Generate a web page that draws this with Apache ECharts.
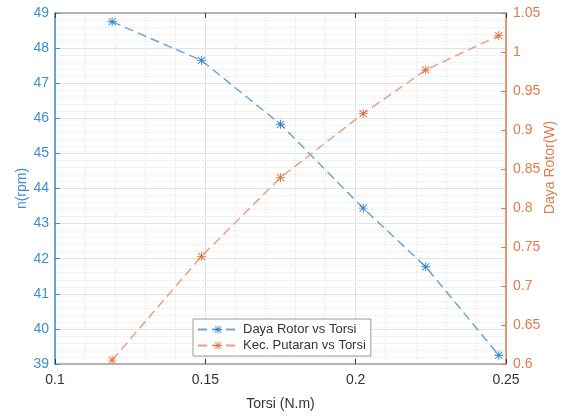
<!DOCTYPE html>
<html>
<head>
<meta charset="utf-8">
<script src="https://cdn.jsdelivr.net/npm/echarts@6/dist/echarts.min.js"></script>
<style>
html,body{margin:0;padding:0;background:#fff;}
#chart{width:574px;height:416px;}
</style>
</head>
<body>
<div id="chart"></div>
<script>
// ---- data ----
const torsi = [0.119, 0.1487, 0.175, 0.2025, 0.2233, 0.2476];
const dayaRotorVsTorsi = [48.75, 47.65, 45.83, 43.44, 41.77, 39.25];   // left axis n(rpm)
const kecPutaranVsTorsi = [0.605, 0.738, 0.839, 0.921, 0.977, 1.021]; // right axis Daya Rotor(W)
const seriesNames = ['Daya Rotor vs Torsi', 'Kec. Putaran vs Torsi'];
const xTicks = { min: 0.1, max: 0.25, interval: 0.05 };
const yLeftTicks = { min: 39, max: 49, interval: 1 };
const yRightTicks = { min: 0.6, max: 1.05, interval: 0.05 };

const BLUE = '#3d8ecf', BLUE_LINE = '#6aa6d6', BLUE_MARK = '#2f84cc';
const ORANGE = '#df7b4c', ORANGE_LINE = '#eaa184', ORANGE_MARK = '#e2703c';
const FONT = 'Liberation Sans, Arial, Helvetica, sans-serif';
const STAR = 'path://M4.5 0 L5.5 0 L5.5 10 L4.5 10 Z M0 4.5 L10 4.5 L10 5.5 L0 5.5 Z M1.4 0.7 L9.3 8.6 L8.6 9.3 L0.7 1.4 Z M8.6 0.7 L9.3 1.4 L1.4 9.3 L0.7 8.6 Z';

const pairs = (xs, ys) => xs.map((x, i) => [x, ys[i]]);
const fmt = v => String(+v.toFixed(2));

const chart = echarts.init(document.getElementById('chart'), null, { renderer: 'canvas' });
chart.setOption({
  animation: false,
  backgroundColor: '#fff',
  textStyle: { fontFamily: FONT },
  grid: { left: 55, right: 68, top: 13, bottom: 49, containLabel: false },
  legend: {
    orient: 'vertical',
    left: 193, top: 319,
    padding: [4, 5, 4, 4],
    itemGap: 3,
    itemWidth: 40, itemHeight: 10,
    backgroundColor: '#fff',
    borderColor: '#9a9a9a', borderWidth: 1, borderRadius: 0,
    textStyle: { fontSize: 13, color: '#333', fontFamily: FONT },
    data: seriesNames
  },
  xAxis: [{
    type: 'value', position: 'bottom',
    min: xTicks.min, max: xTicks.max, interval: xTicks.interval,
    name: 'Torsi (N.m)', nameLocation: 'middle', nameGap: 33, nameMoveOverlap: false,
    nameTextStyle: { fontSize: 14, color: '#333', fontFamily: FONT },
    axisLine: { show: true, lineStyle: { color: '#a0a0a0', width: 1.5 } },
    axisTick: { show: true, inside: true, length: 5, lineStyle: { color: '#333' } },
    axisLabel: { fontSize: 14, color: '#333', margin: 9, formatter: fmt, fontFamily: FONT },
    splitLine: { show: true, lineStyle: { color: '#e2e2e2', width: 1 } },
    minorTick: { show: false, splitNumber: 5 },
    minorSplitLine: { show: true, lineStyle: { color: '#e6e6e6', type: 'dotted', width: 1 } }
  }, {
    type: 'value', position: 'top',
    min: xTicks.min, max: xTicks.max, interval: xTicks.interval,
    axisLine: { show: true, lineStyle: { color: '#a0a0a0', width: 1.5 } },
    axisTick: { show: true, inside: true, length: 5, lineStyle: { color: '#333' } },
    axisLabel: { show: false },
    splitLine: { show: false }
  }],
  yAxis: [{
    type: 'value', position: 'left',
    min: yLeftTicks.min, max: yLeftTicks.max, interval: yLeftTicks.interval,
    name: 'n(rpm)', nameLocation: 'middle', nameGap: 26, nameRotate: 90, nameMoveOverlap: false,
    nameTextStyle: { fontSize: 14, color: BLUE, fontFamily: FONT },
    axisLine: { show: true, lineStyle: { color: BLUE, width: 1.5 } },
    axisTick: { show: true, inside: true, length: 5, lineStyle: { color: BLUE } },
    axisLabel: { fontSize: 14, color: BLUE, margin: 6, fontFamily: FONT },
    splitLine: { show: true, lineStyle: { color: '#e2e2e2', width: 1 } },
    minorTick: { show: false, splitNumber: 5 },
    minorSplitLine: { show: true, lineStyle: { color: '#e6e6e6', type: 'dotted', width: 1 } }
  }, {
    type: 'value', position: 'right',
    min: yRightTicks.min, max: yRightTicks.max, interval: yRightTicks.interval,
    name: 'Daya Rotor(W)', nameLocation: 'middle', nameGap: 37, nameRotate: 90, nameMoveOverlap: false,
    nameTextStyle: { fontSize: 14, color: ORANGE, fontFamily: FONT, padding: [0, 0, 0, 42] },
    axisLine: { show: true, lineStyle: { color: ORANGE, width: 1.5 } },
    axisTick: { show: true, inside: true, length: 5, lineStyle: { color: ORANGE } },
    axisLabel: { fontSize: 14, color: ORANGE, margin: 7, formatter: fmt, fontFamily: FONT },
    splitLine: { show: false }
  }],
  series: [{
    name: seriesNames[0], type: 'line', xAxisIndex: 0, yAxisIndex: 0,
    data: pairs(torsi, dayaRotorVsTorsi),
    symbol: STAR, symbolSize: 9, showSymbol: true,
    itemStyle: { color: BLUE_MARK },
    lineStyle: { color: BLUE_LINE, width: 1.5, type: [9, 5] },
    z: 3
  }, {
    name: seriesNames[1], type: 'line', xAxisIndex: 0, yAxisIndex: 1,
    data: pairs(torsi, kecPutaranVsTorsi),
    symbol: STAR, symbolSize: 9, showSymbol: true,
    itemStyle: { color: ORANGE_MARK },
    lineStyle: { color: ORANGE_LINE, width: 1.5, type: [9, 5] },
    z: 3
  }]
});
</script>
</body>
</html>
